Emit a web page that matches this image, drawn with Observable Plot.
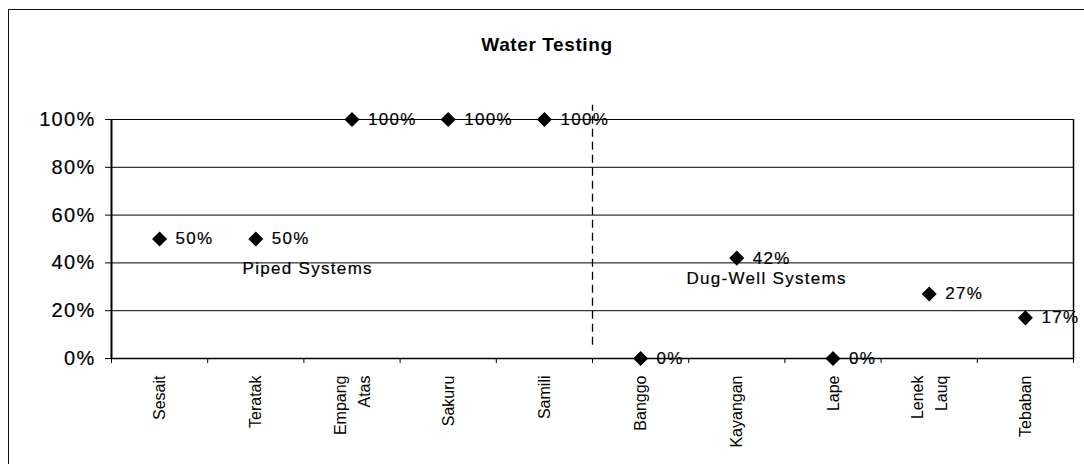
<!DOCTYPE html>
<html><head><meta charset="utf-8">
<script src="https://cdn.jsdelivr.net/npm/d3@7"></script>
<script src="https://cdn.jsdelivr.net/npm/@observablehq/plot@0.6"></script>
<style>
body{margin:0;background:#fff;}
#wrap{position:relative;width:1084px;height:464px;overflow:hidden;background:#fff;font-family:"Liberation Sans",Arial,sans-serif;}
#frame{position:absolute;left:8px;top:9px;right:-2px;bottom:-2px;border-left:1.5px solid #111;border-top:1.5px solid #111;}
#title{position:absolute;left:547px;top:33px;transform:translateX(-50%);font-weight:bold;font-size:19px;letter-spacing:0.6px;line-height:24px;color:#000;white-space:nowrap;}
#chart{position:absolute;left:0;top:90px;}
</style></head><body>
<div id="wrap"><div id="frame"></div><div id="title">Water Testing</div><div id="chart"></div></div>
<script>
// ---- data ----
const sites = ["Sesait", "Teratak", "Empang Atas", "Sakuru", "Samili", "Banggo", "Kayangan", "Lape", "Lenek Lauq", "Tebaban"];
const shares = [0.50, 0.50, 1.00, 1.00, 1.00, 0.00, 0.42, 0.00, 0.27, 0.17];
const yTicks = [0, 0.2, 0.4, 0.6, 0.8, 1.0];
const systemDivider = [5]; // boundary between piped (first 5) and dug-well systems
const noteText = ["Piped Systems", "Dug-Well Systems"];
const noteX = [2.04, 6.81];
const noteY = [0.375, 0.335];

// ---- build ----
const rows = sites.map((s, i) => ({site: s, x: i + 0.5, y: shares[i]}));
const centers = sites.map((s, i) => i + 0.5);
const bounds = d3.range(sites.length + 1);
const pct = d3.format(".0%");
const notes = noteText.map((t, i) => ({t, x: noteX[i], y: noteY[i]}));

const chart = Plot.plot({
  width: 1084, height: 374,
  marginLeft: 111, marginRight: 11, marginTop: 29, marginBottom: 106,
  x: {domain: [0, sites.length]},
  y: {domain: [0, 1]},
  style: {background: "transparent", fontFamily: "'Liberation Sans', Arial, sans-serif", color: "#000"},
  marks: [
    Plot.ruleY(yTicks.slice(1), {stroke: "#000", strokeWidth: 1}),
    Plot.ruleY([0], {stroke: "#000", strokeWidth: 1.5}),
    Plot.ruleX([0], {stroke: "#000", strokeWidth: 2}),
    Plot.ruleX([sites.length], {stroke: "#000", strokeWidth: 1.5}),
    Plot.ruleX(systemDivider, {y1: 0.055, y2: 1.06, stroke: "#000", strokeWidth: 1.3, strokeDasharray: "8,5"}),
    Plot.axisY({ticks: yTicks, tickFormat: pct, tickSize: 6, tickPadding: 10, fontSize: 20, label: null}),
    Plot.axisX({ticks: bounds, tickFormat: () => "", tickSize: 5, label: null}),
    Plot.axisX({ticks: centers, tickFormat: d => sites[Math.floor(d)].replace(" ", "\n"), tickSize: 0, tickPadding: 17, tickRotate: -90, fontSize: 16, lineHeight: 1.5, dx: -2, label: null}),
    Plot.dot(rows, {x: "x", y: "y", symbol: "diamond2", r: 6.8, fill: "#000"}),
    Plot.text(rows, {x: "x", y: "y", text: d => pct(d.y), dx: 16, textAnchor: "start", fontSize: 17, fill: "#000"}),
    Plot.text(notes, {x: "x", y: "y", text: "t", fontSize: 17, fill: "#000"})
  ]
});
document.getElementById("chart").appendChild(chart);
chart.querySelectorAll('g[aria-label="text"], g[aria-label="y-axis tick label"]').forEach(g => {
  g.style.letterSpacing = "1.3px";
  g.style.stroke = "#000";
  g.style.strokeWidth = "0.2px";
});
</script>
</body></html>
